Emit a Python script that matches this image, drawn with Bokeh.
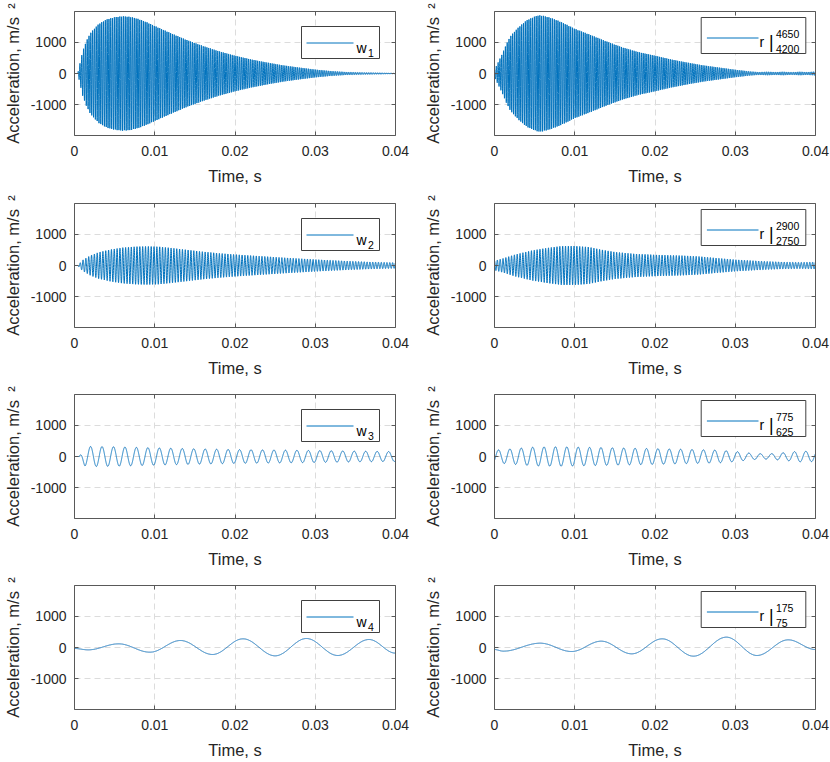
import numpy as np
from bokeh.plotting import figure
from bokeh.layouts import gridplot
from bokeh.models import Range1d, LinearAxis, Label, BoxAnnotation, FixedTicker, Arrow
from bokeh.embed import file_html
from bokeh.resources import INLINE

# ---------------- data ----------------
time_ticks = [0, 0.01, 0.02, 0.03, 0.04]
time_tick_labels = ["0", "0.01", "0.02", "0.03", "0.04"]
acc_ticks = [-1000, 0, 1000]
acc_tick_labels = ["-1000", "0", "1000"]
time_limits = [0.0, 0.04]
acc_limits = [-1980, 1980]
sample_step = 1e-5  # s

mode_subscripts = ["1", "2", "3", "4"]
band_upper = ["4650", "2900", "775", "175"]
band_lower = ["4200", "2750", "625", "75"]

# row 1 : envelope (time, amplitude) of the ~4.4 kHz oscillation
w1_env_t = [0, 0.0004, 0.0007, 0.001, 0.0015, 0.002, 0.003, 0.004, 0.005, 0.006, 0.007,
            0.008, 0.009, 0.010, 0.012, 0.014, 0.016, 0.018, 0.020, 0.022, 0.024, 0.026,
            0.028, 0.030, 0.032, 0.034, 0.036, 0.040]
w1_env_a = [0, 0, 350, 700, 1050, 1300, 1580, 1730, 1800, 1830, 1810, 1740, 1640, 1520,
            1290, 1070, 880, 710, 570, 450, 350, 260, 190, 125, 75, 45, 30, 15]
w1_freq = 4425

r1_env_t = [0, 0.0005, 0.001, 0.0015, 0.002, 0.003, 0.004, 0.005, 0.0055, 0.006, 0.007,
            0.008, 0.009, 0.010, 0.012, 0.014, 0.016, 0.018, 0.020, 0.022, 0.024, 0.026,
            0.028, 0.030, 0.031, 0.032, 0.033, 0.034, 0.035, 0.036, 0.037, 0.038, 0.039, 0.040]
r1_env_a = [120, 380, 650, 950, 1200, 1480, 1700, 1820, 1860, 1850, 1780, 1680, 1560, 1430,
            1230, 1020, 830, 680, 570, 450, 350, 260, 190, 120, 90, 60, 45, 55, 45, 55,
            40, 55, 45, 60]
r1_freq = 4425

# row 2 : envelope of the ~2.8 kHz oscillation
w2_env_t = [0, 0.0004, 0.001, 0.002, 0.003, 0.0045, 0.006, 0.0075, 0.009, 0.0105, 0.012,
            0.014, 0.016, 0.018, 0.020, 0.023, 0.026, 0.030, 0.034, 0.037, 0.040]
w2_env_a = [0, 0, 170, 320, 420, 510, 570, 600, 610, 600, 560, 500, 440, 390, 350, 300,
            250, 190, 140, 110, 90]
w2_freq = 2825

r2_env_t = [0, 0.001, 0.0026, 0.0047, 0.0067, 0.0084, 0.010, 0.0117, 0.0134, 0.015,
            0.0175, 0.020, 0.0234, 0.0254, 0.0275, 0.030, 0.0338, 0.036, 0.038, 0.040]
r2_env_a = [150, 220, 350, 480, 565, 620, 620, 590, 500, 430, 370, 340, 315, 290, 240,
            185, 130, 110, 100, 110]
r2_freq = 2825

# row 3 : envelope of the ~700 Hz oscillation, and time of one crest
w3_env_t = [0, 0.0006, 0.0008, 0.0013, 0.002, 0.005, 0.010, 0.015, 0.020, 0.025, 0.030,
            0.035, 0.040]
w3_env_a = [0, 0, 100, 300, 320, 310, 275, 245, 220, 205, 190, 170, 155]
w3_freq = 700
w3_crest = 0.002

r3_env_t = [0, 0.003, 0.005, 0.008, 0.012, 0.016, 0.020, 0.025, 0.028, 0.030, 0.032,
            0.034, 0.036, 0.038, 0.040]
r3_env_a = [200, 260, 300, 310, 290, 270, 250, 220, 200, 160, 100, 80, 120, 170, 160]
r3_freq = 705
r3_crest = 0.0005

# row 4 : successive crests and troughs (time, value)
w4_ext_t = [0, 0.0017, 0.0055, 0.0094, 0.0132, 0.0172, 0.0210, 0.0250, 0.0289, 0.0328,
            0.0367, 0.0400]
w4_ext_v = [-32, -75, 117, -150, 223, -223, 277, -266, 287, -255, 255, -180]

r4_ext_t = [0, 0.0011, 0.0057, 0.0096, 0.0133, 0.0171, 0.0209, 0.0248, 0.0289, 0.0327,
            0.0366, 0.0400]
r4_ext_v = [-65, -117, 138, -128, 202, -202, 277, -277, 330, -255, 245, -65]

# ---------------- build the sampled curves ----------------
t = np.arange(time_limits[0], time_limits[1] + sample_step / 2, sample_step)


def modulated(env_t, env_a, freq, t_ref=0.0):
    return np.interp(t, env_t, env_a) * np.cos(2 * np.pi * freq * (t - t_ref))


def through_extrema(ext_t, ext_v):
    y = np.zeros_like(t)
    for i in range(len(ext_t) - 1):
        m = (t >= ext_t[i]) & (t <= ext_t[i + 1] + 1e-12)
        u = (t[m] - ext_t[i]) / (ext_t[i + 1] - ext_t[i])
        y[m] = ext_v[i] + (ext_v[i + 1] - ext_v[i]) * (1 - np.cos(np.pi * u)) / 2
    return y


left_series = [
    modulated(w1_env_t, w1_env_a, w1_freq),
    modulated(w2_env_t, w2_env_a, w2_freq),
    modulated(w3_env_t, w3_env_a, w3_freq, w3_crest),
    through_extrema(w4_ext_t, w4_ext_v),
]
right_series = [
    modulated(r1_env_t, r1_env_a, r1_freq),
    modulated(r2_env_t, r2_env_a, r2_freq),
    modulated(r3_env_t, r3_env_a, r3_freq, r3_crest),
    through_extrema(r4_ext_t, r4_ext_v),
]

# ---------------- styling / layout ----------------
FONT = "Liberation Sans"
TXT = "#262626"
AXC = "#595959"
LINE = "#0072BD"
FRAME_W, FRAME_H = 321, 124
col_widths = [420, 410]
border_left = 74
border_right = [25, 15]
row_heights = [189, 191, 191, 191]
border_top = [11, 14, 14, 14]
line_widths = [1.0, 1.0, 0.9, 0.9]


def dx(px):
    return time_limits[0] + px / FRAME_W * (time_limits[1] - time_limits[0])


def dy(py_from_top):
    return acc_limits[1] - py_from_top / FRAME_H * (acc_limits[1] - acc_limits[0])


def style_axis(ax, ticks, labels, standoff):
    ax.ticker = FixedTicker(ticks=ticks)
    ax.major_label_overrides = {tk: lb for tk, lb in zip(ticks, labels)}
    ax.major_label_text_font = FONT
    ax.major_label_text_font_size = "14px"
    ax.major_label_text_color = TXT
    ax.major_label_standoff = standoff
    ax.major_tick_in = 4
    ax.major_tick_out = 0
    ax.minor_tick_in = 0
    ax.minor_tick_out = 0
    ax.minor_tick_line_color = None
    ax.axis_line_color = AXC
    ax.major_tick_line_color = AXC


def make_panel(row, col, y):
    h = row_heights[row]
    w = col_widths[col]
    p = figure(width=w, height=h,
               x_range=Range1d(*time_limits), y_range=Range1d(*acc_limits),
               output_backend="svg", toolbar_location=None,
               min_border_left=border_left, min_border_right=border_right[col],
               min_border_top=border_top[row],
               min_border_bottom=h - border_top[row] - FRAME_H,
               background_fill_color="white", border_fill_color="white")
    p.outline_line_color = None
    style_axis(p.xaxis[0], time_ticks, time_tick_labels, 10)
    style_axis(p.yaxis[0], acc_ticks, acc_tick_labels, 8)
    p.xaxis.axis_label = "Time, s"
    p.xaxis.axis_label_standoff = 8
    p.yaxis.axis_label = "Acceleration, m/s\u2002\u00b2"
    p.yaxis.axis_label_standoff = 6
    for ax in (p.xaxis[0], p.yaxis[0]):
        ax.axis_label_text_font = FONT
        ax.axis_label_text_font_size = "16.5px"
        ax.axis_label_text_font_style = "normal"
        ax.axis_label_text_color = TXT

    for loc, ticks in (("above", time_ticks), ("right", acc_ticks)):
        ax = LinearAxis()
        style_axis(ax, ticks, ["" for _ in ticks], 0)
        ax.major_label_text_font_size = "0px"
        p.add_layout(ax, loc)

    for g in (p.xgrid[0], p.ygrid[0]):
        g.grid_line_color = "#dcdcdc"
        g.grid_line_dash = "6 4"
        g.grid_line_width = 1
    p.xgrid.ticker = FixedTicker(ticks=time_ticks[1:-1])
    p.ygrid.ticker = FixedTicker(ticks=acc_ticks)

    p.line(t, y, line_color=LINE, line_width=line_widths[row])

    # legend drawn by hand (box, sample line, label with sub/superscripts)
    if col == 0:
        p.add_layout(BoxAnnotation(left=dx(227), right=dx(305), top=dy(15), bottom=dy(47),
                                   fill_color="white", fill_alpha=1.0,
                                   line_color="#404040", line_width=1, line_alpha=1.0))
        p.add_layout(Arrow(x_start=dx(232), y_start=dy(31.5), x_end=dx(279), y_end=dy(31.5),
                           start=None, end=None, line_color=LINE, line_width=1))
        p.add_layout(Label(x=dx(282), y=dy(36), text="w", text_align="left",
                           text_baseline="alphabetic", text_font=FONT,
                           text_font_size="14px", text_color="#000000"))
        p.add_layout(Label(x=dx(293.5), y=dy(41.6), text=mode_subscripts[row],
                           text_align="left", text_baseline="alphabetic", text_font=FONT,
                           text_font_size="10.5px", text_color="#000000"))
    else:
        p.add_layout(BoxAnnotation(left=dx(206.7), right=dx(311.3), top=dy(6), bottom=dy(42),
                                   fill_color="white", fill_alpha=1.0,
                                   line_color="#404040", line_width=1, line_alpha=1.0))
        p.add_layout(Arrow(x_start=dx(212.4), y_start=dy(26.5), x_end=dx(264), y_end=dy(26.5),
                           start=None, end=None, line_color=LINE, line_width=1))
        p.add_layout(Label(x=dx(265), y=dy(30.5), text="r", text_align="left",
                           text_baseline="alphabetic", text_font=FONT,
                           text_font_size="14px", text_color="#000000"))
        p.add_layout(Label(x=dx(276.7), y=dy(30.6), text="|", text_align="center",
                           text_baseline="alphabetic", text_font=FONT,
                           text_font_size="17.5px", text_color="#000000"))
        p.add_layout(Label(x=dx(281.4), y=dy(22.6), text=band_upper[row], text_align="left",
                           text_baseline="alphabetic", text_font=FONT,
                           text_font_size="10.5px", text_color="#000000"))
        p.add_layout(Label(x=dx(281.4), y=dy(37), text=band_lower[row], text_align="left",
                           text_baseline="alphabetic", text_font=FONT,
                           text_font_size="10.5px", text_color="#000000"))
    return p


rows = []
for r in range(4):
    rows.append([make_panel(r, 0, left_series[r]), make_panel(r, 1, right_series[r])])

grid = gridplot(rows, toolbar_location=None)

open("out.html", "w").write(file_html(grid, INLINE))
